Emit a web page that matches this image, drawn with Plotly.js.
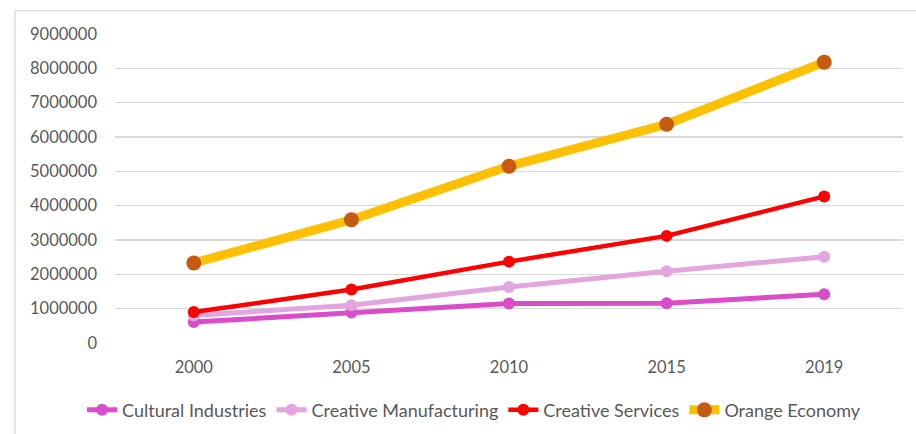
<!DOCTYPE html>
<html>
<head>
<meta charset="utf-8">
<script src="https://cdn.plot.ly/plotly-3.0.1.min.js"></script>
<style>
html,body{margin:0;padding:0;background:#fff;}
#chart{width:916px;height:434px;}
</style>
</head>
<body>
<div id="chart"></div>
<script>
const years = ["2000", "2005", "2010", "2015", "2019"];
const culturalIndustries = [610000, 890000, 1150000, 1160000, 1420000];
const creativeManufacturing = [800000, 1100000, 1630000, 2090000, 2510000];
const creativeServices = [900000, 1560000, 2370000, 3120000, 4270000];
const orangeEconomy = [2330000, 3590000, 5150000, 6370000, 8180000];
const yTicks = [0, 1000000, 2000000, 3000000, 4000000, 5000000, 6000000, 7000000, 8000000, 9000000];

const FONT = "Lato, 'Open Sans', sans-serif";
const GREY = "#595959";

function series(name, y, lineColor, lineWidth, markerColor, markerSize) {
  return {
    type: "scatter", mode: "lines+markers", name: name, x: years, y: y,
    line: {color: lineColor, width: lineWidth},
    marker: {color: markerColor, size: markerSize, line: {width: 0}},
    cliponaxis: false
  };
}

const data = [
  series("Cultural Industries", culturalIndustries, "#DA4CC9", 5, "#DA4CC9", 12),
  series("Creative Manufacturing", creativeManufacturing, "#E3A5DF", 5, "#E3A5DF", 12),
  series("Creative Services", creativeServices, "#FF0000", 4.5, "#FF0000", 12),
  series("Orange Economy", orangeEconomy, "#FFC000", 9, "#C55A11", 15)
];

const layout = {
  width: 916, height: 434,
  margin: {l: 115, r: 13, t: 34.3, b: 91.3, pad: 0},
  paper_bgcolor: "#ffffff", plot_bgcolor: "#ffffff",
  font: {family: FONT, size: 16.5, color: GREY},
  showlegend: true,
  legend: {
    orientation: "h", xref: "container", yref: "container",
    x: 0.5175, xanchor: "center", y: 0.055, yanchor: "middle",
    font: {family: FONT, size: 18, color: GREY},
    itemwidth: 30, tracegroupgap: 0, traceorder: "normal"
  },
  xaxis: {
    type: "category", range: [-0.5, 4.5], showgrid: false, zeroline: false,
    showline: false, ticks: "", ticklabelstandoff: 12,
    tickfont: {family: FONT, size: 16.5, color: GREY}, fixedrange: true
  },
  yaxis: {
    range: [0, 9000000], tickmode: "array", tickvals: yTicks,
    ticktext: yTicks.map(v => String(v)),
    showgrid: true, gridcolor: "#d9d9d9", gridwidth: 1.3, zeroline: false,
    showline: false, ticks: "", ticklabelstandoff: 17,
    tickfont: {family: FONT, size: 16.5, color: GREY}, fixedrange: true
  },
  shapes: [{
    type: "path", xref: "paper", yref: "paper",
    path: "M -0.1269,-0.4 L -0.1269,1.0756 L 1.1,1.0756",
    line: {color: "#d9d9d9", width: 1.3}
  }]
};

Plotly.newPlot("chart", data, layout, {displayModeBar: false, staticPlot: true});
</script>
</body>
</html>
